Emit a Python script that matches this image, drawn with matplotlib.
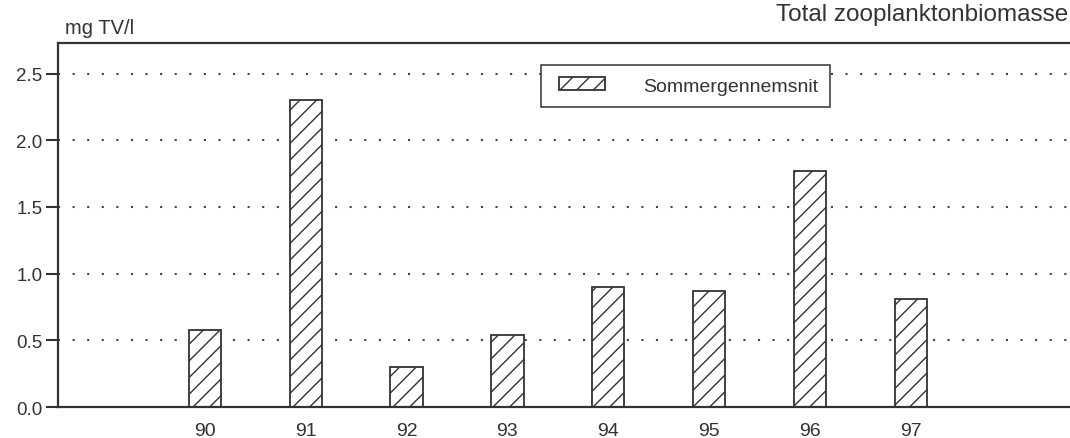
import matplotlib
matplotlib.use('Agg')
import matplotlib.pyplot as plt
from matplotlib.patches import Rectangle
from matplotlib.legend_handler import HandlerPatch, update_from_first_child

# summer mean zooplankton biomass per year
years = [90, 91, 92, 93, 94, 95, 96, 97]
biomass = [0.58, 2.30, 0.30, 0.54, 0.90, 0.87, 1.77, 0.81]
yticks = [0.0, 0.5, 1.0, 1.5, 2.0, 2.5]

ink = '#333333'
plt.rcParams['font.family'] = ['Liberation Sans', 'DejaVu Sans']
plt.rcParams['hatch.color'] = ink
plt.rcParams['hatch.linewidth'] = 1.0


def InsetHandle(legend, orig_handle, xdescent, ydescent, width, height, fontsize):
    # hatched key box, pushed a bit to the right inside the legend frame
    shift = 0.3 * fontsize
    return Rectangle((-xdescent + shift, -ydescent), width - shift, height)


fig = plt.figure(figsize=[10.70, 4.39], dpi=100)
ax = fig.add_axes([0.054, 0.0706, 0.946, 0.8292])

bars = ax.bar(years, biomass, width=0.32, facecolor='white', edgecolor=ink,
              linewidth=1.3, hatch='//', label='Sommergennemsnit', zorder=2)

ax.set_xlim(88.54, 98.58)
ax.set_ylim(0, 2.73)
ax.set_xticks(years)
ax.set_xticklabels([str(y) for y in years])
ax.set_yticks(yticks)
ax.set_yticklabels(['%.1f' % v for v in yticks])

ax.tick_params(axis='x', length=0, pad=11, labelsize=14, labelcolor=ink)
ax.tick_params(axis='y', length=9, width=1.5, pad=2, labelsize=13.5,
               labelcolor=ink, color=ink)

ax.yaxis.grid(True, linestyle=(0, (1, 6)), linewidth=1.5, color='#444444')
ax.set_axisbelow(True)

ax.spines['right'].set_visible(False)
for side in ['left', 'bottom', 'top']:
    ax.spines[side].set_linewidth(1.6)
    ax.spines[side].set_color(ink)

leg = ax.legend(loc='upper left', bbox_to_anchor=(0.477, 0.94), borderaxespad=0,
                fontsize=14, fancybox=False, framealpha=1, edgecolor=ink,
                borderpad=0.65, handlelength=2.65, handleheight=0.62,
                handletextpad=1.95, labelcolor=ink,
                handler_map={type(bars): HandlerPatch(patch_func=InsetHandle,
                                                      update_func=update_from_first_child)})
leg.get_frame().set_linewidth(1.1)
leg.set_zorder(5)

fig.text(0.061, 1 - 33.5 / 439, 'mg TV/l', fontsize=14.5, color=ink, ha='left', va='baseline')
fig.text(0.998, 1 - 21 / 439, 'Total zooplanktonbiomasse', fontsize=17.5, color=ink,
         ha='right', va='baseline')

fig.savefig('out.png', dpi=100)
